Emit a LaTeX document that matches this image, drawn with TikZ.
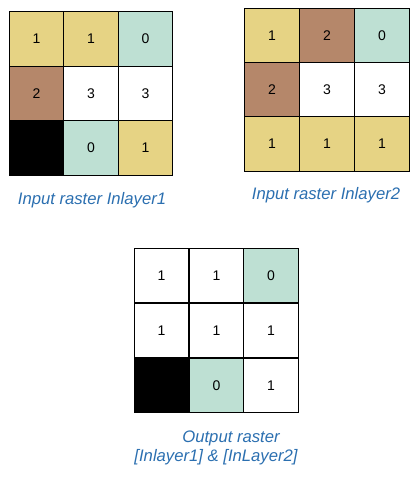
\documentclass[tikz,border=0pt]{standalone}
\usepackage{fontspec}
\setmainfont{Liberation Sans}
\usepackage{tikz}
\definecolor{sand}{HTML}{E6D384}
\definecolor{clay}{HTML}{B5876A}
\definecolor{mint}{HTML}{BEE0D3}
\definecolor{capblue}{HTML}{2B6FB0}
\tikzset{
  cell/.style ={draw=black, line width=0.75pt, minimum size=41pt, inner sep=0pt, outer sep=0pt, font=\fontsize{10.5}{12}\selectfont},
  caption/.style ={text=capblue, font=\fontsize{12.5}{14}\selectfont\itshape, inner sep=0pt}
}

\begin{document}
\begin{tikzpicture}[x=0.75pt,y=-0.75pt]
	\useasboundingbox (0,0) rectangle (420,479);
	% Inlayer1
	\node[cell,fill=sand] (a11) at (36.5,39) {1};
	\node[cell,fill=sand] (a12) at (91,39) {1};
	\node[cell,fill=mint] (a13) at (145.5,39) {0};
	\node[cell,fill=clay] (a21) at (36.5,93.5) {2};
	\node[cell,fill=white] (a22) at (91,93.5) {3};
	\node[cell,fill=white] (a23) at (145.5,93.5) {3};
	\node[cell,fill=black] (a31) at (36.5,148) {};
	\node[cell,fill=mint] (a32) at (91,148) {0};
	\node[cell,fill=sand] (a33) at (145.5,148) {1};
	\node[caption] (capa) at (92,200) {Input raster Inlayer1};
	% Inlayer2
	\node[cell,fill=sand] (b11) at (272,35.5) {1};
	\node[cell,fill=clay] (b12) at (327,35.5) {2};
	\node[cell,fill=mint] (b13) at (382,35.5) {0};
	\node[cell,fill=clay] (b21) at (272,89.5) {2};
	\node[cell,fill=white] (b22) at (327,89.5) {3};
	\node[cell,fill=white] (b23) at (382,89.5) {3};
	\node[cell,fill=sand] (b31) at (272,144) {1};
	\node[cell,fill=sand] (b32) at (327,144) {1};
	\node[cell,fill=sand] (b33) at (382,144) {1};
	\node[caption] (capb) at (326,195) {Input raster Inlayer2};
	% output
	\node[cell,fill=white] (c11) at (161.5,275.5) {1};
	\node[cell,fill=white] (c12) at (216.5,275.5) {1};
	\node[cell,fill=mint] (c13) at (271,275.5) {0};
	\node[cell,fill=white] (c21) at (161.5,330.5) {1};
	\node[cell,fill=white] (c22) at (216.5,330.5) {1};
	\node[cell,fill=white] (c23) at (271,330.5) {1};
	\node[cell,fill=black] (c31) at (161.5,385.5) {};
	\node[cell,fill=mint] (c32) at (216.5,385.5) {0};
	\node[cell,fill=white] (c33) at (271,385.5) {1};
	\node[caption] (capc) at (231,438) {Output raster};
	\node[caption] (capd) at (216,457) {[Inlayer1] \& [InLayer2]};
\end{tikzpicture}
\end{document}
